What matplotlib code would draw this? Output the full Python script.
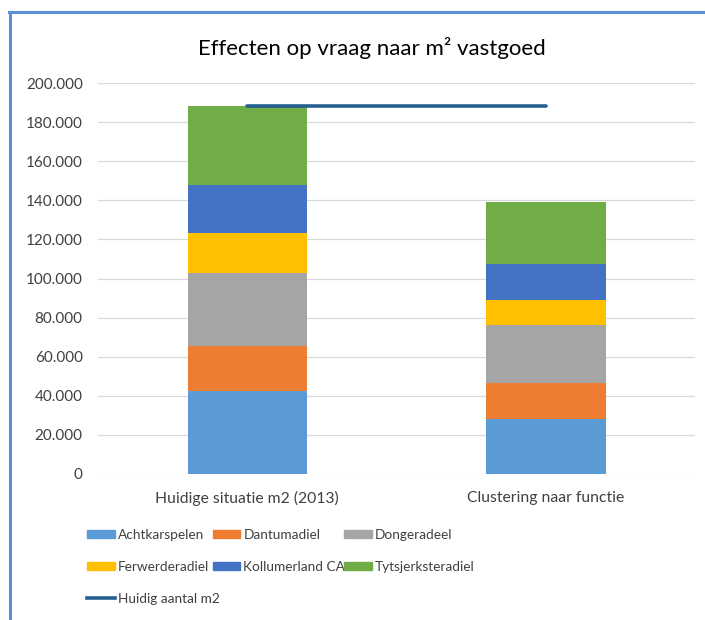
import matplotlib
matplotlib.use('Agg')
import matplotlib.pyplot as plt
from matplotlib.lines import Line2D
from matplotlib.patches import Patch
from matplotlib.ticker import FuncFormatter

plt.rcParams['font.family'] = ['Lato', 'DejaVu Sans']

scenarios = ['Huidige situatie m2 (2013)', 'Clustering naar functie']
gemeenten = ['Achtkarspelen', 'Dantumadiel', 'Dongeradeel',
             'Ferwerderadiel', 'Kollumerland CA', 'Tytsjerksteradiel']
achtkarspelen = [42300, 28300]
dantumadiel = [23200, 18250]
dongeradeel = [37500, 29650]
ferwerderadiel = [20150, 12800]
kollumerland = [24700, 18400]
tytsjerksteradiel = [40500, 31900]
huidig_aantal = [188350, 188350]

series = [achtkarspelen, dantumadiel, dongeradeel,
          ferwerderadiel, kollumerland, tytsjerksteradiel]
colors = ['#5B9BD5', '#ED7D31', '#A5A5A5', '#FFC000', '#4472C4', '#70AD47']
line_color = '#255E91'
text_color = '#404040'

fig = plt.figure(figsize=(7.05, 6.2), dpi=100)
ax = fig.add_axes([0.139, 0.2355, 0.847, 0.6305])

x = list(range(len(scenarios)))
bottom = [0, 0]
for vals, col in zip(series, colors):
    ax.bar(x, vals, width=0.4, bottom=bottom, color=col, zorder=2)
    bottom = [b + v for b, v in zip(bottom, vals)]

ax.plot(x, huidig_aantal, color=line_color, lw=2.6, solid_capstyle='round', zorder=3)

ax.set_xlim(-0.5, 1.5)
ax.set_ylim(0, 200000)
ax.set_yticks(range(0, 200001, 20000))
ax.yaxis.set_major_formatter(FuncFormatter(lambda v, p: f'{int(v):,}'.replace(',', '.')))
ax.grid(axis='y', color='#D9D9D9', lw=0.9, zorder=0)
for s in ax.spines.values():
    s.set_visible(False)
ax.tick_params(axis='both', length=0, colors=text_color)
ax.tick_params(axis='y', pad=11, labelsize=11)
ax.tick_params(axis='x', pad=12, labelsize=11.3)
ax.set_xticks(x)
ax.set_xticklabels(scenarios)

fig.text(0.528, 0.922, 'Effecten op vraag naar m\u00b2 vastgoed', ha='center', va='center',
         fontsize=16, color='#000000')

# legend: three fixed columns, filled row by row
handles = [Patch(color=c) for c in colors]
handles.append(Line2D([], [], color=line_color, lw=2.6))
labels = gemeenten + ['Huidig aantal m2']
columns = [[0, 3, 6], [1, 4], [2, 5]]
col_x = [0.1235, 0.3015, 0.488]
for idx, cx in zip(columns, col_x):
    fig.legend([handles[i] for i in idx], [labels[i] for i in idx],
               ncol=1, loc='upper left', bbox_to_anchor=(cx, 0.147), frameon=False,
               fontsize=9.8, labelcolor=text_color, handlelength=2.05,
               handleheight=0.52, handletextpad=0.22, labelspacing=1.46,
               borderaxespad=0, borderpad=0)

# chart border (left and top edge)
border = '#5B8FD6'
fig.add_artist(Line2D([0.0135, 0.0135], [0.0, 0.981], color=border, lw=2.2,
                      transform=fig.transFigure))
fig.add_artist(Line2D([0.0125, 1.0], [0.981, 0.981], color=border, lw=2.2,
                      transform=fig.transFigure))

fig.savefig('out.png', dpi=100)
